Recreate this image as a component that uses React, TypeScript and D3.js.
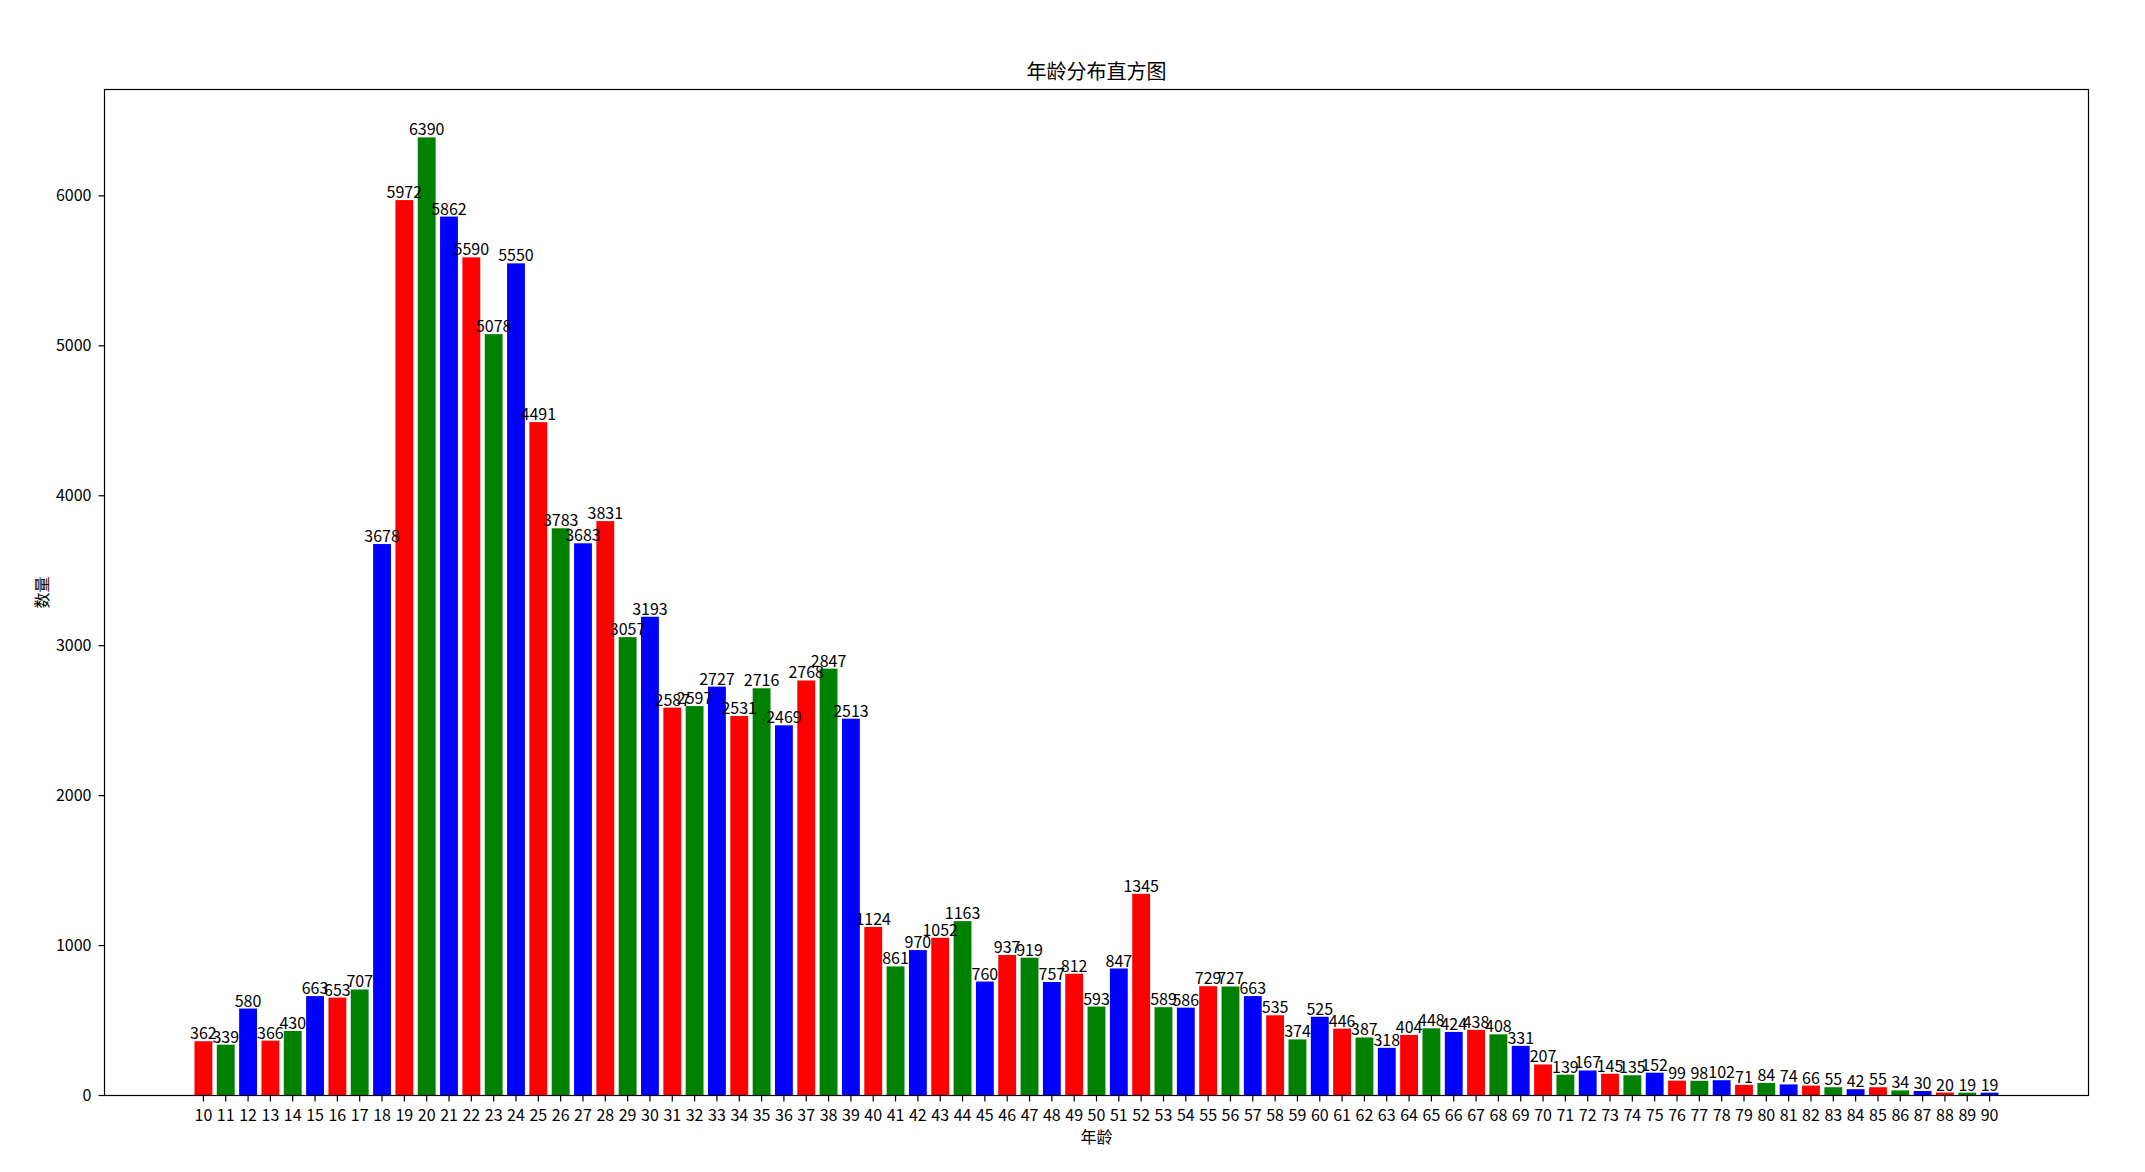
import React from "react";
import * as d3 from "d3";

const ages: number[] = [
  10, 11, 12, 13, 14, 15, 16, 17, 18, 19, 20, 21, 22, 23, 24, 25, 26, 27, 28, 29,
  30, 31, 32, 33, 34, 35, 36, 37, 38, 39, 40, 41, 42, 43, 44, 45, 46, 47, 48, 49,
  50, 51, 52, 53, 54, 55, 56, 57, 58, 59, 60, 61, 62, 63, 64, 65, 66, 67, 68, 69,
  70, 71, 72, 73, 74, 75, 76, 77, 78, 79, 80, 81, 82, 83, 84, 85, 86, 87, 88, 89, 90,
];
const counts: number[] = [
  362, 339, 580, 366, 430, 663, 653, 707, 3678, 5972, 6390, 5862, 5590, 5078, 5550, 4491, 3783, 3683, 3831, 3057,
  3193, 2587, 2597, 2727, 2531, 2716, 2469, 2768, 2847, 2513, 1124, 861, 970, 1052, 1163, 760, 937, 919, 757, 812,
  593, 847, 1345, 589, 586, 729, 727, 663, 535, 374, 525, 446, 387, 318, 404, 448, 424, 438, 408, 331,
  207, 139, 167, 145, 135, 152, 99, 98, 102, 71, 84, 74, 66, 55, 42, 55, 34, 30, 20, 19, 19,
];
const barColors: string[] = ["#ff0000", "#008000", "#0000ff"];
const yTicks: number[] = [0, 1000, 2000, 3000, 4000, 5000, 6000];
const title = "年龄分布直方图";
const xLabel = "年龄";
const yLabel = "数量";

const W = 2145;
const H = 1172;
const L = 104.5;
const R = 2088.5;
const T = 89.5;
const B = 1095.5;
const FONT = "'Noto Sans CJK SC', 'Noto Sans', sans-serif";

export default function App() {
  const x = d3.scaleLinear().domain([10 - 4.43, 90 + 4.43]).range([L, R]);
  const yMax = d3.max(counts)! * 1.05;
  const y = d3.scaleLinear().domain([0, yMax]).range([B, T]);
  const bw = x(10.8) - x(10);

  return (
    <svg
      width={W}
      height={H}
      style={{ position: "absolute", left: 0, top: 0, background: "#fff" }}
      fontFamily={FONT}
    >
      <rect x={0} y={0} width={W} height={H} fill="#fff" />
      <text x={(L + R) / 2} y={79} textAnchor="middle" fontSize={20} fill="#000">
        {title}
      </text>
      {ages.map((a, i) => (
        <rect
          key={a}
          x={x(a) - bw / 2}
          y={y(counts[i])}
          width={bw}
          height={B - y(counts[i])}
          fill={barColors[i % 3]}
        />
      ))}
      {ages.map((a, i) => (
        <text
          key={"l" + a}
          x={x(a)}
          y={y(counts[i]) - 2}
          textAnchor="middle"
          fontSize={16}
          fill="#000"
        >
          {counts[i]}
        </text>
      ))}
      <rect x={L} y={T} width={R - L} height={B - T} fill="none" stroke="#000" strokeWidth={1.2} />
      {yTicks.map((t) => (
        <g key={"y" + t}>
          <line x1={L - 6} x2={L} y1={y(t)} y2={y(t)} stroke="#000" strokeWidth={1.2} />
          <text x={L - 13} y={y(t)} dy="0.35em" textAnchor="end" fontSize={16} fill="#000">
            {t}
          </text>
        </g>
      ))}
      {ages.map((a) => (
        <g key={"x" + a}>
          <line x1={x(a)} x2={x(a)} y1={B} y2={B + 6} stroke="#000" strokeWidth={1.2} />
          <text x={x(a)} y={B + 25} textAnchor="middle" fontSize={16} fill="#000">
            {a}
          </text>
        </g>
      ))}
      <text x={(L + R) / 2} y={1143} textAnchor="middle" fontSize={16} fill="#000">
        {xLabel}
      </text>
      <text
        transform={`translate(48, ${(T + B) / 2}) rotate(-90)`}
        textAnchor="middle"
        fontSize={16}
        fill="#000"
      >
        {yLabel}
      </text>
    </svg>
  );
}
